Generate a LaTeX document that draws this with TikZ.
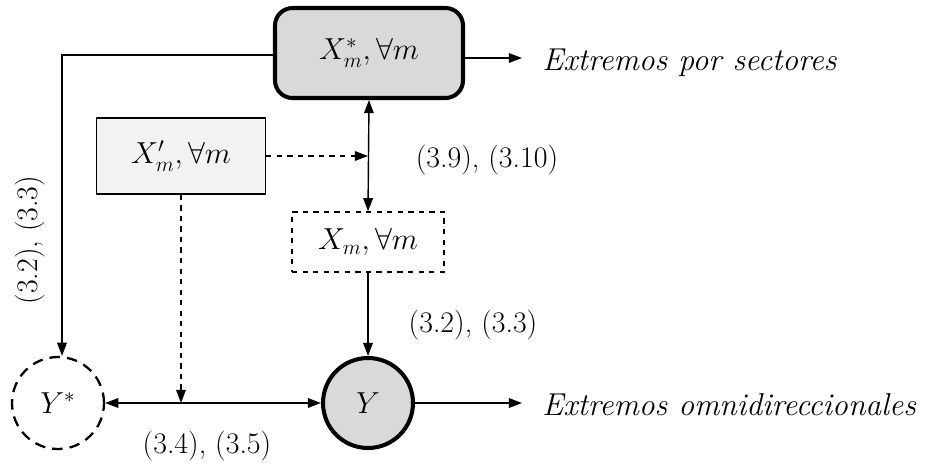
\documentclass[tikz,border=0pt]{standalone}
\usetikzlibrary{arrows.meta}
\begin{document}
\begin{tikzpicture}[x=0.02cm,y=-0.02cm,
  tip/.style={-{Triangle[length=7.5pt,width=5.5pt]}},
  bitip/.style={{Triangle[length=7.5pt,width=5.5pt]}-{Triangle[length=7.5pt,width=5.5pt]}},
  conn/.style={line width=0.8pt},
  lbl/.style={font=\fontsize{17}{20}\selectfont, inner sep=0pt},
  outlbl/.style={font=\fontsize{18}{22}\selectfont\itshape, anchor=west, inner sep=0pt},
  mathtxt/.style={font=\fontsize{18}{21}\selectfont}]
  \useasboundingbox (0,0) rectangle (925,467);
  \definecolor{boxgray}{gray}{0.85}
  \definecolor{lightbox}{gray}{0.95}

  % nodes
  \node[draw, line width=2.3pt, rounded corners=10pt, fill=boxgray,
        minimum width=188*0.02cm, minimum height=90*0.02cm, mathtxt] (xs) at (369,53) {$X_m^{*}, \forall m$};
  \node[draw, line width=0.8pt, fill=lightbox,
        minimum width=169*0.02cm, minimum height=76*0.02cm, mathtxt] (xp) at (181,156) {$X'_m, \forall m$};
  \node[draw, dashed, line width=0.8pt,
        minimum width=152*0.02cm, minimum height=60*0.02cm, mathtxt] (xm) at (368,242) {$X_m, \forall m$};
  \node[draw, circle, line width=2.3pt, fill=boxgray,
        minimum size=90*0.02cm, mathtxt] (y) at (368,403) {$Y$};
  \node[draw, circle, line width=1.3pt, dash pattern=on 6pt off 4pt,
        minimum size=92*0.02cm, mathtxt] (ys) at (58,403) {$Y^{*}$};

  % free ends and junctions
  \coordinate (outS) at (522,58);
  \coordinate (outO) at (522,403);
  \coordinate (corner) at (62,55);
  \coordinate (vx) at (368,156);
  \coordinate (hy) at (181,403);

  % connectors
  \draw[conn, tip] (xs.east |- outS) -- (outS);
  \draw[conn, tip] (y.east) -- (outO);
  \draw[conn, tip] (xs.west |- corner) -- (corner) -- (ys.north -| corner);
  \draw[conn, bitip] (xs.south) -- (xm.north);
  \draw[conn, dashed, tip] (xp.east) -- (vx);
  \draw[conn, tip] (xm.south) -- (y.north);
  \draw[conn, bitip] (ys.east) -- (y.west);
  \draw[conn, dashed, tip] (xp.south) -- (hy);

  % labels
  \node[outlbl] (lS) at (542,63) {Extremos por sectores};
  \node[outlbl] (lO) at (542,405) {Extremos omnidireccionales};
  \node[lbl] (l1) at (487,160) {(3.9), (3.10)};
  \node[lbl] (l2) at (473,325) {(3.2), (3.3)};
  \node[lbl] (l3) at (207,446) {(3.4), (3.5)};
  \node[lbl, rotate=90] (l4) at (30,240) {(3.2), (3.3)};
\end{tikzpicture}
\end{document}
